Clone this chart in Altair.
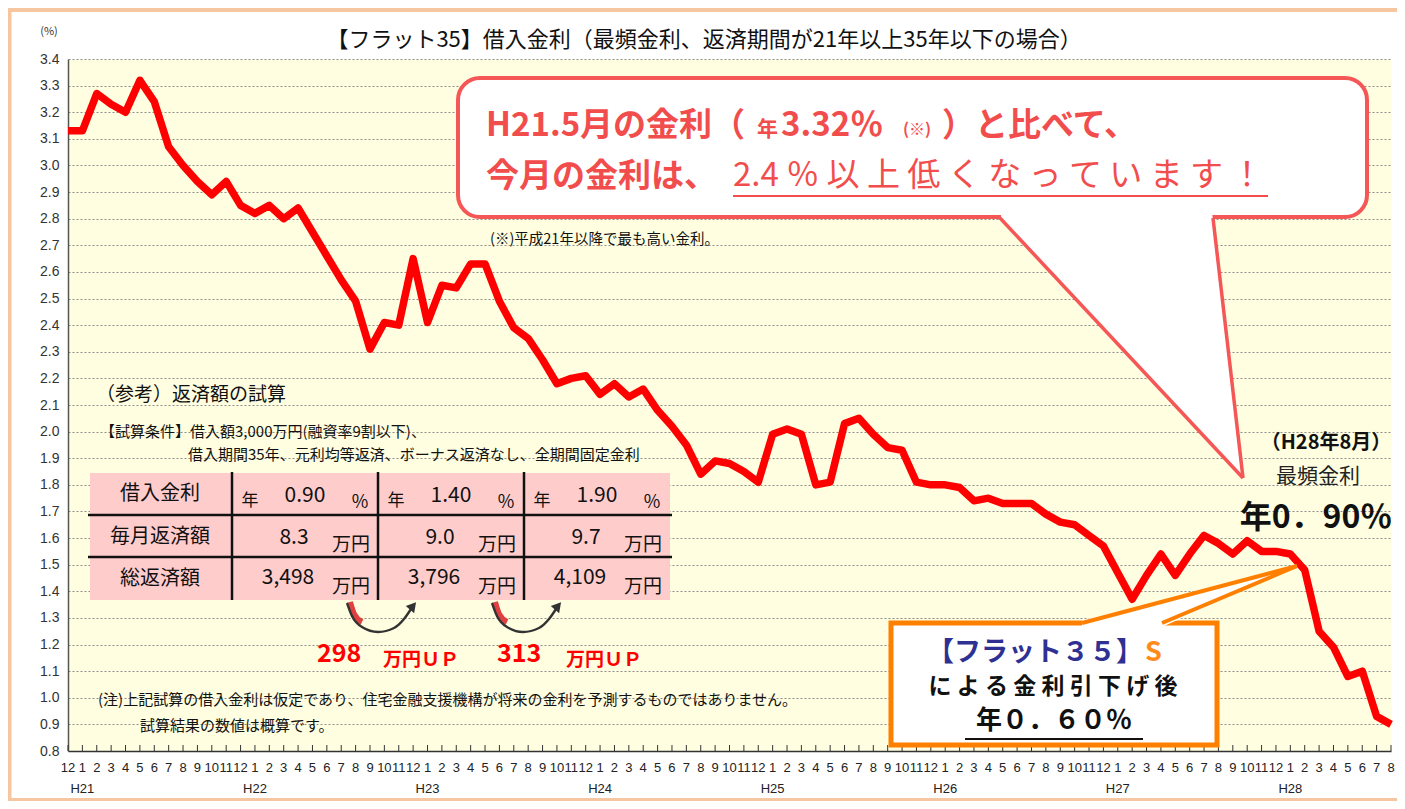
import altair as alt
import pandas as pd

# ---------------- data ----------------
rates = [3.13, 3.13, 3.27, 3.23, 3.20, 3.32, 3.24, 3.07, 3.00, 2.94, 2.89, 2.94,
         2.85, 2.82, 2.85, 2.80, 2.84, 2.75, 2.66, 2.57, 2.49, 2.31, 2.41, 2.40,
         2.65, 2.41, 2.55, 2.54, 2.63, 2.63, 2.49, 2.39, 2.35, 2.27, 2.18, 2.20,
         2.21, 2.14, 2.18, 2.13, 2.16, 2.08, 2.02, 1.95, 1.84, 1.89, 1.88, 1.85,
         1.81, 1.99, 2.01, 1.99, 1.80, 1.81, 2.03, 2.05, 1.99, 1.94, 1.93, 1.81,
         1.80, 1.80, 1.79, 1.74, 1.75, 1.73, 1.73, 1.73, 1.69, 1.66, 1.65, 1.61,
         1.57, 1.47, 1.37, 1.46, 1.54, 1.46, 1.54, 1.61, 1.58, 1.54, 1.59, 1.55,
         1.55, 1.54, 1.48, 1.25, 1.19, 1.08, 1.10, 0.93, 0.90]
month_labels = ["12"] + [str(m) for m in range(1, 13)] * 7 + [str(m) for m in range(1, 9)]
year_labels = ["H21", "H22", "H23", "H24", "H25", "H26", "H27", "H28"]
year_index = [1, 13, 25, 37, 49, 61, 73, 85]
y_ticks = [0.8, 0.9, 1.0, 1.1, 1.2, 1.3, 1.4, 1.5, 1.6, 1.7, 1.8, 1.9, 2.0,
           2.1, 2.2, 2.3, 2.4, 2.5, 2.6, 2.7, 2.8, 2.9, 3.0, 3.1, 3.2, 3.3, 3.4]

rate_labels = ["0.90", "1.40", "1.90"]
monthly_pay = ["8.3", "9.0", "9.7"]
total_pay = ["3,498", "3,796", "4,109"]
diffs = ["298", "313"]

# ---------------- layout helpers ----------------
W, H = 1323, 692
PAD = {"left": 60, "top": 51, "right": 6, "bottom": 50}
X0, Y0 = 8 + PAD["left"], 8 + PAD["top"]
N = len(rates) - 1
YMIN, YMAX = 0.8, 3.4
FONT = "Noto Sans CJK JP"
RED_TXT = "#F24D4D"
RED_BOX = "#F55656"


def px(x):
    return (x - X0) * N / W


def py(y):
    return YMAX - (y - Y0) * (YMAX - YMIN) / H


xs = alt.Scale(domain=[0, N], nice=False, zero=False)
ys = alt.Scale(domain=[YMIN, YMAX], nice=False, zero=False)
AX = alt.Axis(labels=False, ticks=False, grid=False, title=None,
              domainColor="#333", domainWidth=1.5)
AY = alt.Axis(values=y_ticks, format=".1f", title=None, ticks=False, labelPadding=9,
              labelFontSize=14, labelColor="#333", labelFont="Liberation Sans",
              grid=True, gridColor="#8c8c8c", gridDash=[2, 2], gridWidth=1,
              domainColor="#555", domainWidth=1.5)


def X(f):
    return alt.X(f, type="quantitative", scale=xs, axis=AX)


def Y(f):
    return alt.Y(f, type="quantitative", scale=ys, axis=AY)


def texts(rows, weight="normal", align="center"):
    df = pd.DataFrame([{"x": px(r[0]), "y": py(r[1]), "t": r[2], "s": r[3],
                        "c": r[4] if len(r) > 4 else "#111"} for r in rows])
    return alt.Chart(df).mark_text(font=FONT, fontWeight=weight, align=align,
                                   baseline="middle").encode(
        x=X("x"), y=Y("y"), text="t:N",
        size=alt.Size("s:Q", scale=None, legend=None),
        color=alt.Color("c:N", scale=None, legend=None))


def rects(rows, **mk):
    df = pd.DataFrame([{"x": px(a), "y": py(b), "x2": px(c), "y2": py(d)}
                       for a, b, c, d in rows])
    return alt.Chart(df).mark_rect(**mk).encode(x=X("x"), x2="x2", y=Y("y"), y2="y2")


def segs(rows, **mk):
    df = pd.DataFrame([{"x": px(a), "y": py(b), "x2": px(c), "y2": py(d)}
                       for a, b, c, d in rows])
    return alt.Chart(df).mark_rule(**mk).encode(x=X("x"), x2="x2", y=Y("y"), y2="y2")


def poly_area(rows, color):
    df = pd.DataFrame([{"x": px(a), "y": py(b), "y2": py(c)} for a, b, c in rows])
    return alt.Chart(df).mark_area(color=color, opacity=1, interpolate="linear").encode(
        x=X("x"), y=Y("y"), y2="y2")


def curve(rows, **mk):
    df = pd.DataFrame([{"g": g, "k": k, "x": px(a), "y": py(b)} for g, k, a, b in rows])
    return alt.Chart(df).mark_line(interpolate="monotone", **mk).encode(
        x=X("x"), y=Y("y"), detail="g:N", order="k:Q")


# ---------------- main line ----------------
df = pd.DataFrame({"i": list(range(len(rates))), "rate": rates})
main = alt.Chart(df).mark_line(color="#FF0000", strokeWidth=7.5, strokeJoin="round").encode(
    x=X("i"), y=Y("rate"))

# bottom ticks (inward) and month / year labels
tick_df = pd.DataFrame({"i": list(range(len(rates)))})
ticks = alt.Chart(tick_df).mark_rule(color="#333", strokeWidth=1).encode(
    x=X("i"), y=alt.value(H), y2=alt.value(H - 6))
mlab = alt.Chart(pd.DataFrame({"i": list(range(len(month_labels))), "t": month_labels})).mark_text(
    font="Liberation Sans", fontSize=13, color="#222", baseline="middle").encode(
    x=X("i"), y=alt.value(768 - Y0), text="t:N")
ylab = alt.Chart(pd.DataFrame({"i": year_index, "t": year_labels})).mark_text(
    font="Liberation Sans", fontSize=13, color="#222", baseline="middle").encode(
    x=X("i"), y=alt.value(789 - Y0), text="t:N")

# ---------------- frame ----------------
frame = segs([(8, 10, 1397, 10), (9.5, 8, 9.5, 801), (8, 800, 1397, 800)],
             color="#F6C6A0", strokeWidth=4)

# ---------------- table ----------------
table_bg = rects([(90, 473, 670, 600)], color="#FFCCCC", opacity=1)
table_lines = segs([(88, 515, 672, 515), (88, 557, 672, 557),
                    (232, 472, 232, 600), (378, 472, 378, 600), (524, 472, 524, 600)],
                   color="#111", strokeWidth=2.5)
tcells = [(160, 494, "借入金利", 20), (160, 537, "毎月返済額", 20), (160, 579, "総返済額", 20)]
for k in range(3):
    o = 146 * k
    tcells += [(250 + o, 501, "年", 17), (305 + o, 496, rate_labels[k], 21), (360 + o, 503, "%", 18),
               (294 + o, 538, monthly_pay[k], 21), (351 + o, 545, "万円", 19),
               (288 + o, 578, total_pay[k], 21), (351 + o, 587, "万円", 19)]

# arrows
arrow_pts = []
red_pts = []
for g, o in enumerate([0, 145]):
    for k, (a, b) in enumerate([(347, 603), (352, 616), (362, 627), (378, 632),
                                (394, 628), (404, 619), (411, 609)]):
        arrow_pts.append((g, k, a + o, b))
    for k, (a, b) in enumerate([(350, 602), (354, 614), (362, 622)]):
        red_pts.append((g, k, a + o, b))
arrows_red = curve(red_pts, color="#E04040", strokeWidth=6)
arrows = curve(arrow_pts, color="#333", strokeWidth=2.4)
heads = alt.Chart(pd.DataFrame({"x": [px(413), px(558)], "y": [py(606), py(606)]})).mark_point(
    shape="triangle-up", angle=40, filled=True, size=120, color="#333", opacity=1).encode(
    x=X("x"), y=Y("y"))

# ---------------- red callout ----------------
red_box = rects([(458, 78, 1367, 217)], fill="white", stroke=RED_BOX, strokeWidth=4,
                cornerRadius=22)
red_tail = poly_area([(1001, 212, 220), (1212, 212, 444), (1243, 478, 478)], "white")
red_edges = segs([(1000, 218, 1243, 478), (1213, 218, 1243, 478)], color=RED_BOX, strokeWidth=3.5)
red_ul = segs([(733, 196, 1268, 196)], color=RED_TXT, strokeWidth=2)

# ---------------- orange callout ----------------
or_box = rects([(891, 623, 1217, 745)], fill="white", stroke="#FF8000", strokeWidth=5)
or_tail = poly_area([(1082, 620, 627), (1162, 601.8, 627), (1297, 566, 566)], "white")
or_edges = segs([(1082, 623, 1297, 566), (1162, 623, 1297, 566)], color="#FF8000", strokeWidth=4)
blk_ul = segs([(965, 739, 1143, 739)], color="#111", strokeWidth=2)

# ---------------- texts ----------------
t_norm_c = texts([
    (704, 40, "【フラット35】借入金利（最頻金利、返済期間が21年以上35年以下の場合）", 22),
    (49, 32, "(%)", 11, "#333"),
    (1318, 477, "最頻金利", 21, "#222"),
] + tcells)

t_norm_l = texts([
    (490, 240, "(※)平成21年以降で最も高い金利。", 14.5),
    (96, 395, "（参考）返済額の試算", 19),
    (100, 432, "【試算条件】借入額3,000万円(融資率9割以下)、", 15),
    (188, 455, "借入期間35年、元利均等返済、ボーナス返済なし、全期間固定金利", 15),
    (98, 700, "(注)上記試算の借入金利は仮定であり、住宅金融支援機構が将来の金利を予測するものではありません。", 15),
    (140, 726, "試算結果の数値は概算です。", 15),
    (733, 176, "2.4 ％ 以 上 低 く な っ て い ま す ！", 33, RED_TXT),
], align="left")

t_bold_l = texts([
    (486, 126, "H21.5月の金利（", 33, RED_TXT),
    (757, 130, "年", 21, RED_TXT),
    (781, 126, "3.32％", 33, RED_TXT),
    (903, 130, "(※)", 16, RED_TXT),
    (942, 126, "）と比べて、", 33, RED_TXT),
    (486, 177, "今月の金利は、", 33, RED_TXT),
    (927, 653, "【フラット３５】", 27, "#2E3192"),
    (1145, 653, "S", 27, "#FF8C1A"),
    (383, 660, "万円ＵＰ", 19, "#FF0000"),
    (566, 660, "万円ＵＰ", 19, "#FF0000"),
], weight="bold", align="left")

t_bold_c = texts([
    (1053, 687, "に よ る 金 利 引 下 げ 後", 23, "#111"),
    (1054, 721, "年０．６０％", 26, "#111"),
    (1326, 443, "（H28年8月）", 20, "#111"),
    (1316, 518, "年0．90％", 32, "#111"),
    (339, 654, diffs[0], 25, "#FF0000"),
    (519, 654, diffs[1], 25, "#FF0000"),
], weight="bold")

chart = alt.layer(
    main, frame, ticks, mlab, ylab,
    table_bg, table_lines, arrows_red, arrows, heads,
    red_box, red_tail, red_edges, red_ul,
    or_box, or_tail, or_edges, blk_ul,
    t_norm_c, t_norm_l, t_bold_l, t_bold_c,
).properties(
    width=W, height=H, padding=PAD, autosize=alt.AutoSizeParams(type="none"),
    background="white",
).configure_view(fill="#FFFEE0", stroke="transparent")

chart.save("out.html", embed_options={"renderer": "svg", "actions": False})
